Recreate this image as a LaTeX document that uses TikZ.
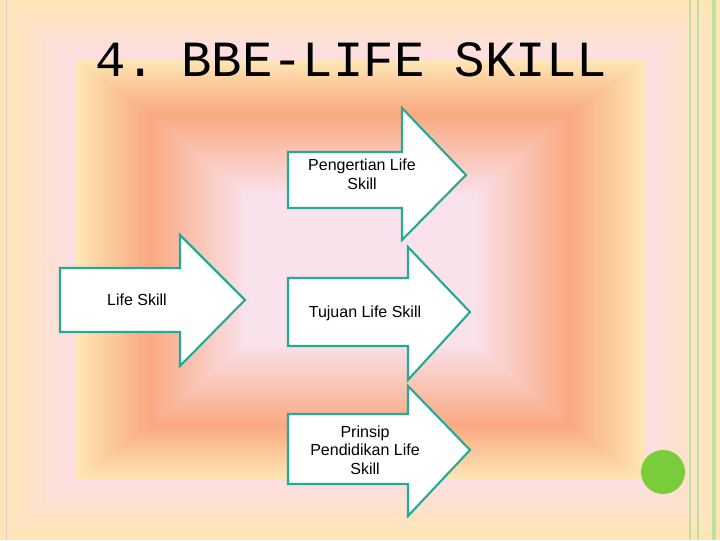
\documentclass[tikz,border=0pt]{standalone}
\usepackage{fontspec}
\setmainfont{Liberation Sans}
\tikzset{every picture/.style={line width=0.75pt}}
\definecolor{edgepink}{RGB}{253,222,228}
\definecolor{softyellow}{RGB}{254,230,180}
\definecolor{deeporange}{RGB}{250,170,130}
\definecolor{centerpink}{RGB}{250,226,236}
\definecolor{arrowteal}{RGB}{38,170,150}
\definecolor{bargreen}{RGB}{190,225,160}
\definecolor{dotgreen}{RGB}{122,204,58}
\tikzset{
  skillarrow/.style={draw=arrowteal, line width=1.6pt, fill=white},
  skilltext/.style={align=center, font=\fontsize{12}{14}\selectfont, inner sep=0.75pt}
}
\begin{document}
\begin{tikzpicture}[x=0.75pt,y=0.75pt,yscale=-1,xscale=1]
	\useasboundingbox (0,0) rectangle (720,540);
	% background
	\foreach \i in {0,...,29} {
		\pgfmathsetmacro{\p}{100-100*\i/29}
		\fill [softyellow!\p!edgepink] (0+2.5*\i,0+2*\i) rectangle (720-2.5*\i,540-2*\i);
	}
	\foreach \i in {0,...,29} {
		\pgfmathsetmacro{\p}{100*\i/29}
		\fill [deeporange!\p!softyellow] (75+2.5*\i,60+1.8*\i) rectangle (645-2.5*\i,480-1.8*\i);
	}
	\foreach \i in {0,...,29} {
		\pgfmathsetmacro{\p}{100*\i/29}
		\fill [centerpink!\p!deeporange] (150+3.3*\i,114+2.8*\i) rectangle (570-3.3*\i,426-2.8*\i);
	}
	% frame lines
	\draw [bargreen, line width=1.5pt] (690,0) -- (690,540);
	\draw [bargreen, line width=1.5pt] (698,0) -- (698,540);
	\draw [bargreen, line width=3pt] (714,0) -- (714,540);
	\draw [edgepink!80!gray, line width=0.5pt] (6,0) -- (6,540);
	\fill [dotgreen] (663,472) circle (22);
	% title
	\node (title) at (351,60) {\fontspec{Liberation Mono}\fontsize{38}{38}\selectfont 4.\hspace{-0.3em} BBE-LIFE SKILL};
	% arrows
	\draw [skillarrow] (60,268) -- (180,268) -- (180,235) -- (245,300) -- (180,366) -- (180,332) -- (60,332) -- cycle;
	\draw [skillarrow] (288,152) -- (402,152) -- (402,108) -- (466,175) -- (402,240) -- (402,208) -- (288,208) -- cycle;
	\draw [skillarrow] (288,278) -- (408,278) -- (408,247) -- (470,312) -- (408,380) -- (408,346) -- (288,346) -- cycle;
	\draw [skillarrow] (288,414) -- (408,414) -- (408,386) -- (470,450) -- (408,516) -- (408,484) -- (288,484) -- cycle;
	% labels
	\node [skilltext] (life) at (137,300) {Life Skill};
	\node [skilltext] (pengertian) at (362,174) {Pengertian Life\\Skill};
	\node [skilltext] (tujuan) at (365,313) {Tujuan Life Skill};
	\node [skilltext] (prinsip) at (365,450) {Prinsip\\Pendidikan Life\\Skill};
\end{tikzpicture}
\end{document}
